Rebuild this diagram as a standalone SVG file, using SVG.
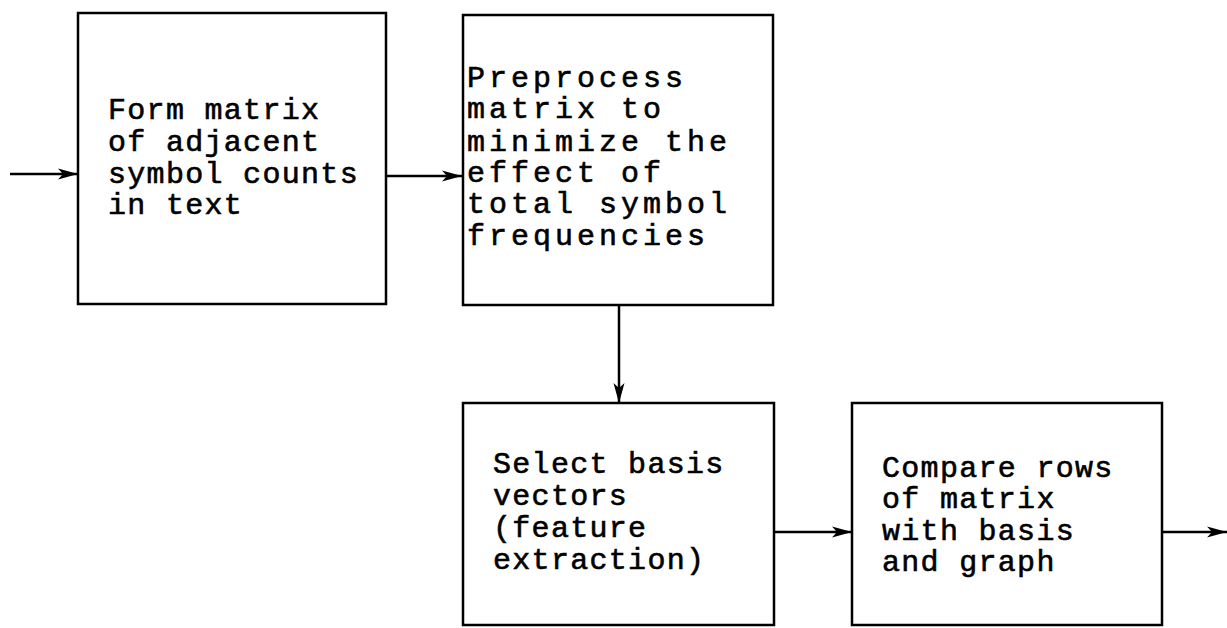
<svg xmlns="http://www.w3.org/2000/svg" width="1227" height="628" viewBox="0 0 1227 628">
<style>
.box{fill:#fff;stroke:#000;stroke-width:2.5}
.t{font-family:"Liberation Mono","Courier New",monospace;font-size:30px;fill:#000;stroke:#000;stroke-width:0.6px;letter-spacing:1.3px}
.t2{letter-spacing:4px}
.c{stroke:#000;stroke-width:2.5;fill:none;marker-end:url(#ah)}
</style>
<defs>
<marker id="ah" markerWidth="20" markerHeight="12" refX="20" refY="6" orient="auto" markerUnits="userSpaceOnUse">
<path d="M0,0.5 L20,6 L0,11.5 L5,6 Z" fill="#000"/>
</marker>
</defs>
<rect width="1227" height="628" fill="#fff"/>
<g id="connectors">
<line class="c" x1="10" y1="174" x2="78" y2="174"/>
<line class="c" x1="386" y1="176" x2="462" y2="176"/>
<line class="c" x1="619" y1="305" x2="619" y2="403"/>
<line class="c" x1="774" y1="532" x2="852" y2="532"/>
<line class="c" x1="1162" y1="532" x2="1227" y2="532"/>
</g>
<g id="n1">
<rect class="box" x="78" y="13" width="308" height="291"/>
<text class="t" x="108" y="119">Form matrix</text>
<text class="t" x="108" y="151">of adjacent</text>
<text class="t" x="108" y="183">symbol counts</text>
<text class="t" x="108" y="214">in text</text>
</g>
<g id="n2">
<rect class="box" x="463" y="15" width="310" height="290"/>
<text class="t t2" x="467" y="87">Preprocess</text>
<text class="t t2" x="467" y="118">matrix to</text>
<text class="t t2" x="467" y="151">minimize the</text>
<text class="t t2" x="467" y="182">effect of</text>
<text class="t t2" x="467" y="213">total symbol</text>
<text class="t t2" x="467" y="245">frequencies</text>
</g>
<g id="n3">
<rect class="box" x="463" y="403" width="311" height="222"/>
<text class="t" x="493" y="473">Select basis</text>
<text class="t" x="493" y="505">vectors</text>
<text class="t" x="493" y="537">(feature</text>
<text class="t" x="493" y="569">extraction)</text>
</g>
<g id="n4">
<rect class="box" x="852" y="403" width="310" height="222"/>
<text class="t" x="882" y="477">Compare rows</text>
<text class="t" x="882" y="508">of matrix</text>
<text class="t" x="882" y="540">with basis</text>
<text class="t" x="882" y="571">and graph</text>
</g>
</svg>
